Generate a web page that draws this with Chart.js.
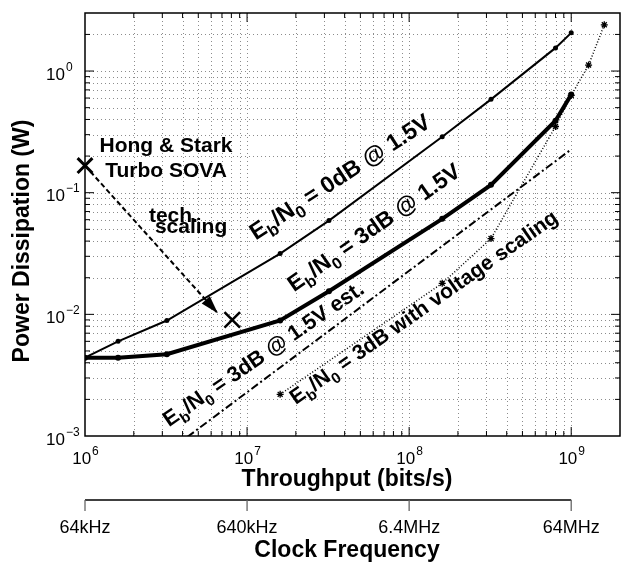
<!DOCTYPE html>
<html>
<head>
<meta charset="utf-8">
<script src="https://cdn.jsdelivr.net/npm/chart.js@4.4.0/dist/chart.umd.min.js"></script>
<style>
  html, body { margin: 0; padding: 0; background: #fff; }
</style>
</head>
<body>
<canvas id="chart" width="621" height="562"></canvas>
<script>
// throughput (bits/s) vs power (W)
const rate0dB = [1e6, 1.6e6, 3.2e6, 1.6e7, 3.2e7, 1.6e8, 3.2e8, 8e8, 1e9];
const power0dB = [0.0044, 0.006, 0.0089, 0.0316, 0.059, 0.288, 0.585, 1.55, 2.06];
const rate3dB = [1e6, 1.6e6, 3.2e6, 1.6e7, 3.2e7, 1.6e8, 3.2e8, 8e8, 1e9];
const power3dB = [0.0044, 0.0044, 0.0047, 0.0089, 0.0155, 0.061, 0.116, 0.39, 0.64];
const rateEst = [1e6, 1e9];
const powerEst = [0.00023, 0.227];
const rateVolt = [1.6e7, 1.6e8, 3.2e8, 8e8, 1e9, 1.28e9, 1.6e9];
const powerVolt = [0.0022, 0.018, 0.042, 0.35, 0.63, 1.12, 2.4];
const rateHong = [1e6];
const powerHong = [0.167];
const rateScaled = [8.1e6];
const powerScaled = [0.009];
const rateTech = [1e6, 6.6e6];
const powerTech = [0.167, 0.0102];

// axis labels
const xDecades = [1e6, 1e7, 1e8, 1e9];
const xExps = ['6', '7', '8', '9'];
const yDecades = [1e-3, 1e-2, 1e-1, 1e0];
const yExps = ['\u22123', '\u22122', '\u22121', '0'];
const clockLabels = ['64kHz', '640kHz', '6.4MHz', '64MHz'];

const FONT = "'Liberation Sans', Arial, Helvetica, sans-serif";

function pts(xs, ys) {
  return xs.map((x, i) => ({ x: x, y: ys[i] }));
}

// minor positions 1..9 x 10^n inside the range
function logSteps(min, max) {
  const out = [];
  for (let e = Math.floor(Math.log10(min)); e <= Math.ceil(Math.log10(max)); e++) {
    for (let k = 1; k <= 9; k++) {
      const v = k * Math.pow(10, e);
      if (v > min * 1.0001 && v < max * 0.9999) out.push({ v: v, major: k === 1 });
    }
  }
  return out;
}

// text with subscripts: parts = [[text, isSub], ...]
function drawRich(ctx, parts, x, y, angle, size) {
  ctx.save();
  ctx.translate(x, y);
  ctx.rotate(-angle * Math.PI / 180);
  ctx.textAlign = 'left';
  ctx.textBaseline = 'alphabetic';
  let cx = 0;
  parts.forEach(p => {
    const s = p[1] ? Math.round(size * 0.72) : size;
    ctx.font = 'bold ' + s + 'px ' + FONT;
    ctx.fillText(p[0], cx, p[1] ? size * 0.28 : 0);
    cx += ctx.measureText(p[0]).width;
  });
  ctx.restore();
}

const notes = [
  { parts: [['E', 0], ['b', 1], ['/N', 0], ['0', 1], [' = 0dB @ 1.5V', 0]], x: 1.13e7, y: 0.0405, angle: 33, size: 23 },
  { parts: [['E', 0], ['b', 1], ['/N', 0], ['0', 1], [' = 3dB @ 1.5V', 0]], x: 1.95e7, y: 0.0152, angle: 35, size: 22.5 },
  { parts: [['E', 0], ['b', 1], ['/N', 0], ['0', 1], [' = 3dB @ 1.5V est.', 0]], x: 3.3e6, y: 0.00118, angle: 34.5, size: 21.5 },
  { parts: [['E', 0], ['b', 1], ['/N', 0], ['0', 1], [' = 3dB with voltage scaling', 0]], x: 2.0e7, y: 0.0018, angle: 35, size: 21 }
];

const decor = {
  id: 'decor',
  beforeDatasetsDraw(chart) {
    const ctx = chart.ctx;
    const a = chart.chartArea;
    const xs = chart.scales.x, ys = chart.scales.y;
    ctx.save();
    ctx.strokeStyle = 'rgba(0,0,0,0.45)';
    ctx.lineWidth = 1;
    ctx.setLineDash([1, 3]);
    logSteps(xs.min, xs.max).forEach(t => {
      const px = Math.round(xs.getPixelForValue(t.v)) + 0.5;
      ctx.beginPath(); ctx.moveTo(px, a.top); ctx.lineTo(px, a.bottom); ctx.stroke();
    });
    logSteps(ys.min, ys.max).forEach(t => {
      const py = Math.round(ys.getPixelForValue(t.v)) + 0.5;
      ctx.beginPath(); ctx.moveTo(a.left, py); ctx.lineTo(a.right, py); ctx.stroke();
    });
    ctx.restore();
  },
  afterDatasetsDraw(chart) {
    const ctx = chart.ctx;
    const a = chart.chartArea;
    const xs = chart.scales.x, ys = chart.scales.y;
    ctx.save();

    // box + inward ticks
    ctx.strokeStyle = '#000';
    ctx.lineWidth = 1.5;
    ctx.strokeRect(a.left, a.top, a.right - a.left, a.bottom - a.top);
    ctx.lineWidth = 1;
    logSteps(xs.min, xs.max).forEach(t => {
      const px = xs.getPixelForValue(t.v);
      const len = t.major ? 9 : 5;
      ctx.beginPath();
      ctx.moveTo(px, a.bottom); ctx.lineTo(px, a.bottom - len);
      ctx.moveTo(px, a.top); ctx.lineTo(px, a.top + len);
      ctx.stroke();
    });
    logSteps(ys.min, ys.max).forEach(t => {
      const py = ys.getPixelForValue(t.v);
      const len = t.major ? 9 : 5;
      ctx.beginPath();
      ctx.moveTo(a.left, py); ctx.lineTo(a.left + len, py);
      ctx.moveTo(a.right, py); ctx.lineTo(a.right - len, py);
      ctx.stroke();
    });

    // tick labels 10^n
    ctx.fillStyle = '#000';
    ctx.textBaseline = 'alphabetic';
    xDecades.forEach((v, i) => {
      const px = xs.getPixelForValue(v);
      ctx.font = '17px ' + FONT;
      const w1 = ctx.measureText('10').width;
      ctx.font = '12px ' + FONT;
      const w2 = ctx.measureText(xExps[i]).width;
      const x0 = px - (w1 + w2) / 2;
      ctx.textAlign = 'left';
      ctx.font = '17px ' + FONT;
      ctx.fillText('10', x0, a.bottom + 28);
      ctx.font = '12px ' + FONT;
      ctx.fillText(xExps[i], x0 + w1 + 1, a.bottom + 19);
    });
    yDecades.forEach((v, i) => {
      const py = ys.getPixelForValue(v);
      ctx.textAlign = 'right';
      ctx.font = '17px ' + FONT;
      ctx.fillText('10', a.left - 20, py + 8.5);
      ctx.textAlign = 'left';
      ctx.font = '12px ' + FONT;
      ctx.fillText(yExps[i], a.left - 19, py - 0.5);
    });

    // axis titles
    ctx.font = 'bold 23px ' + FONT;
    ctx.textAlign = 'center';
    ctx.fillText('Throughput (bits/s)', 347, a.bottom + 50);
    ctx.save();
    ctx.translate(29, 241);
    ctx.rotate(-Math.PI / 2);
    ctx.fillText('Power Dissipation (W)', 0, 0);
    ctx.restore();

    // clock frequency axis under the throughput axis
    const cy = a.bottom + 64;
    const cx0 = xs.getPixelForValue(xDecades[0]);
    const cx1 = xs.getPixelForValue(xDecades[xDecades.length - 1]);
    ctx.strokeStyle = '#000';
    ctx.lineWidth = 1.3;
    ctx.beginPath(); ctx.moveTo(cx0, cy); ctx.lineTo(cx1, cy); ctx.stroke();
    ctx.strokeStyle = '#666';
    xDecades.forEach((v, i) => {
      const px = xs.getPixelForValue(v);
      ctx.beginPath(); ctx.moveTo(px, cy); ctx.lineTo(px, cy + 11); ctx.stroke();
      ctx.font = '18px ' + FONT;
      ctx.textAlign = 'center';
      ctx.fillText(clockLabels[i], px, cy + 33);
    });
    ctx.font = 'bold 23px ' + FONT;
    ctx.fillText('Clock Frequency', 347, cy + 57);

    // arrowhead at the end of the tech scaling line
    const tm = chart.getDatasetMeta(6).data;
    const p0 = tm[0], p1 = tm[tm.length - 1];
    const ang = Math.atan2(p1.y - p0.y, p1.x - p0.x);
    ctx.save();
    ctx.translate(p1.x, p1.y);
    ctx.rotate(ang);
    ctx.beginPath();
    ctx.moveTo(0, 0); ctx.lineTo(-18, -5.5); ctx.lineTo(-18, 5.5); ctx.closePath();
    ctx.fill();
    ctx.restore();

    // annotations
    ctx.font = 'bold 21px ' + FONT;
    ctx.textAlign = 'center';
    const hx = xs.getPixelForValue(3.16e6);
    ctx.fillText('Hong & Stark', hx, ys.getPixelForValue(0.214));
    ctx.fillText('Turbo SOVA', hx, ys.getPixelForValue(0.135));
    ctx.textAlign = 'left';
    ctx.fillText('tech.', xs.getPixelForValue(2.48e6), ys.getPixelForValue(0.057));
    ctx.fillText('scaling', xs.getPixelForValue(2.7e6), ys.getPixelForValue(0.0463));

    notes.forEach(n => {
      drawRich(ctx, n.parts, xs.getPixelForValue(n.x), ys.getPixelForValue(n.y), n.angle, n.size);
    });
    ctx.restore();
  }
};

new Chart(document.getElementById('chart'), {
  type: 'scatter',
  data: {
    datasets: [
      { data: pts(rate0dB, power0dB), showLine: true, borderColor: '#000', borderWidth: 2,
        pointRadius: 2.5, pointBackgroundColor: '#000', pointBorderWidth: 0 },
      { data: pts(rate3dB, power3dB), showLine: true, borderColor: '#000', borderWidth: 4,
        pointRadius: 3, pointBackgroundColor: '#000', pointBorderWidth: 0 },
      { data: pts(rateEst, powerEst), showLine: true, borderColor: '#000', borderWidth: 2,
        borderDash: [8, 3, 2, 3], pointRadius: 0 },
      { data: pts(rateVolt, powerVolt), showLine: true, borderColor: '#000', borderWidth: 1.5,
        borderDash: [1, 2], pointStyle: 'star', pointRadius: 3.5, pointBorderWidth: 1.3,
        pointBorderColor: '#000' },
      { data: pts(rateHong, powerHong), pointStyle: 'crossRot', pointRadius: 10.5,
        pointBorderWidth: 3, pointBorderColor: '#000', clip: false },
      { data: pts(rateScaled, powerScaled), pointStyle: 'crossRot', pointRadius: 11,
        pointBorderWidth: 2.5, pointBorderColor: '#000' },
      { data: pts(rateTech, powerTech), showLine: true, borderColor: '#000', borderWidth: 2,
        borderDash: [5, 3], pointRadius: 0 }
    ]
  },
  options: {
    responsive: false,
    animation: false,
    devicePixelRatio: 1,
    layout: { autoPadding: false, padding: { top: 13, right: 1, left: 0, bottom: 0 } },
    plugins: { legend: { display: false }, tooltip: { enabled: false } },
    scales: {
      x: {
        type: 'logarithmic', min: 1e6, max: 2e9,
        ticks: { display: false }, grid: { display: false }, border: { display: false },
        afterFit(s) { s.height = 126; }
      },
      y: {
        type: 'logarithmic', min: 1e-3, max: 3,
        ticks: { display: false }, grid: { display: false }, border: { display: false },
        afterFit(s) { s.width = 85; }
      }
    }
  },
  plugins: [decor]
});
</script>
</body>
</html>
